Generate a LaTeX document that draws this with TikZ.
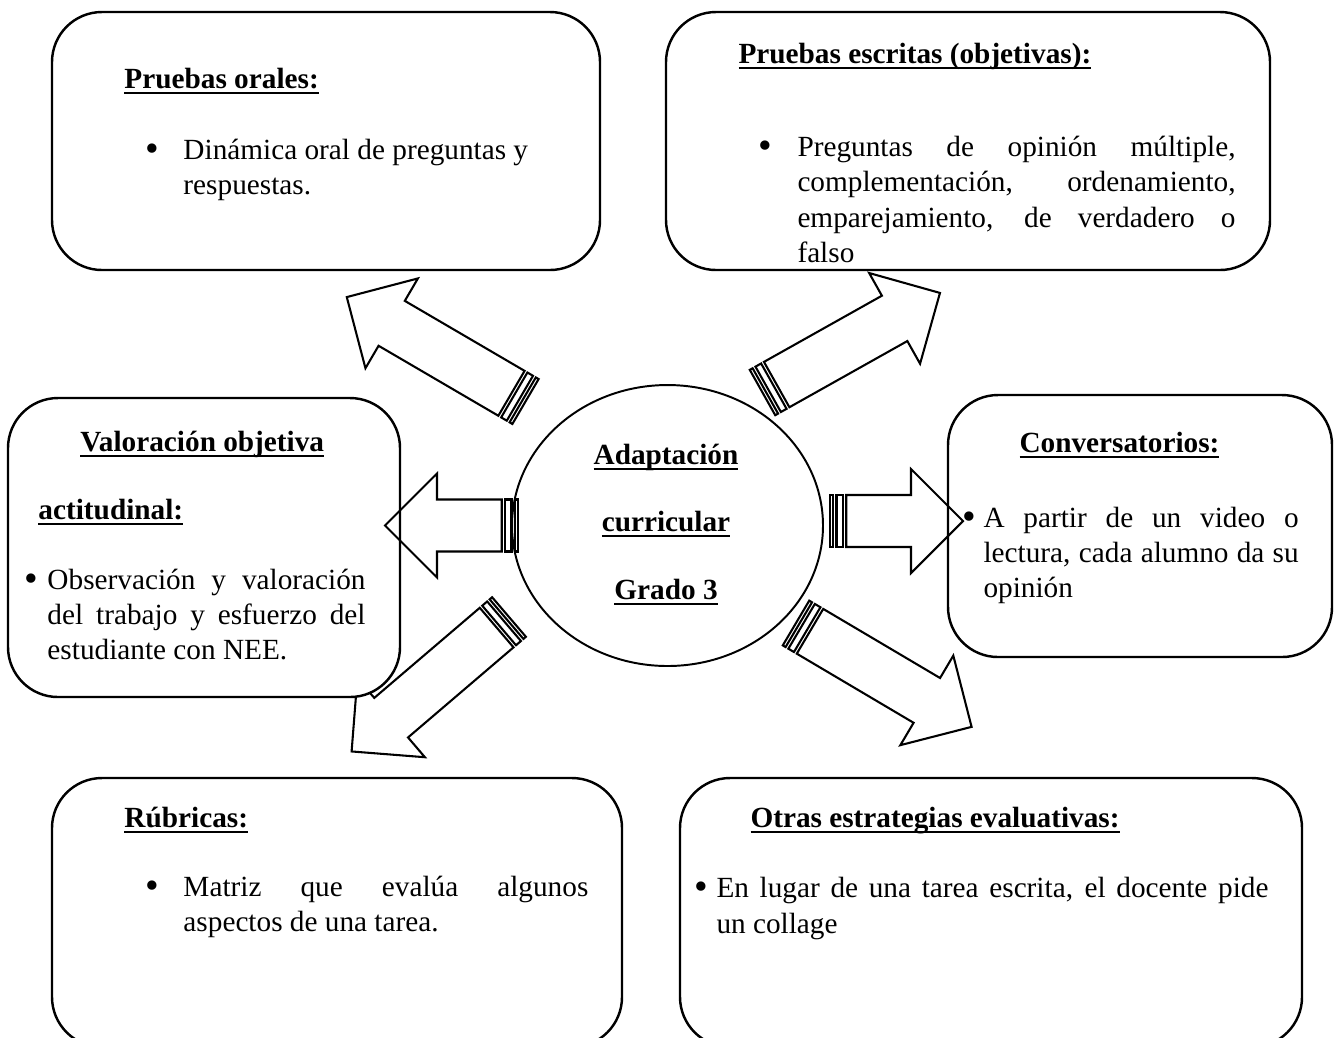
\documentclass[tikz,border=0pt]{standalone}
\usepackage{fontspec}
\setmainfont{Liberation Serif}
\usetikzlibrary{shapes.geometric}
\newcommand\hdr[1]{\setbox0\hbox{\bfseries #1}\rlap{\rule[-2.5pt]{\wd0}{1pt}}\box0}
\newcommand\jline[2]{\makebox[#1][s]{#2}}
\newcommand\sarrow[5]{%
  \begin{scope}[shift={(#1,#2)},rotate=#3]
    \draw[arr,#5] (16.25,-26) -- ({#4-52},-26) -- ({#4-52},-52) -- (#4,0)
      -- ({#4-52},52) -- ({#4-52},26) -- (16.25,26) -- cycle;
    \draw[arr,#5] (0,-26) rectangle (3.25,26);
    \draw[arr,#5] (6.5,-26) rectangle (13,26);
  \end{scope}}
\tikzset{
  box/.style={draw, line width=1pt, rounded corners=20.5pt, fill=white},
  arr/.style={draw, line width=0.85pt, line join=miter},
  txt/.style={anchor=base west, inner sep=0pt, font=\fontsize{12}{14}\selectfont},
  ctr/.style={anchor=base, inner sep=0pt, font=\fontsize{12}{14}\selectfont},
  bul/.style={anchor=base, inner sep=0pt, font=\fontsize{16}{16}\selectfont},
}
\begin{document}
\begin{tikzpicture}[x=0.41pt,y=-0.41pt]
\useasboundingbox (0,0) rectangle (1339,1037);
\fill[white] (0,0) rectangle (1339,1037);
\clip (0,0) rectangle (1339,1037);

% arrow hidden behind the left box
\sarrow{509}{617}{220.5}{207}{fill=white}

% boxes
\draw[box] (52,12) rectangle (600,270);
\draw[box] (666,12) rectangle (1270,270);
\draw[box] (8,398) rectangle (400,697);
\draw[box] (948,395) rectangle (1332,657);
\draw[box] (52,778) rectangle (622,1047);
\draw[box] (680,778) rectangle (1302,1047);

% other arrows
\sarrow{525.5}{401.5}{149.7}{207}{}
\sarrow{762.5}{392.5}{29.3}{203.5}{}
\sarrow{518}{525.5}{180}{133}{}
\sarrow{830}{521}{0}{133}{}
\sarrow{796}{623}{-30.6}{204}{}

% centre
\node[draw, ellipse, line width=0.8pt, minimum width=127.5pt, minimum height=115.2pt, inner sep=0pt] (c) at (667.5,525.5) {};
\node[ctr] (c1) at (666,464) {\hdr{Adaptación}};
\node[ctr] (c2) at (666,531) {\hdr{curricular}};
\node[ctr] (c3) at (666,599) {\hdr{Grado 3}};

% box 1
\node[txt] (h1) at (124,88) {\hdr{Pruebas orales:}};
\node[bul] (b1) at (152,161) {\textbullet};
\node[txt] (t1a) at (183,159) {Dinámica oral de preguntas y};
\node[txt] (t1b) at (183,194) {respuestas.};

% box 2
\node[txt] (h2) at (738,63) {\hdr{Pruebas escritas (objetivas):}};
\node[bul] (b2) at (765,158) {\textbullet};
\node[txt] (t2a) at (797,156) {\jline{179.6pt}{Preguntas de opinión múltiple,}};
\node[txt] (t2b) at (797,191) {\jline{179.6pt}{complementación, ordenamiento,}};
\node[txt] (t2c) at (797,227) {\jline{179.6pt}{emparejamiento, de verdadero o}};
\node[txt] (t2d) at (797,262) {falso};

% box 3
\node[txt] (h3a) at (80,451) {\hdr{Valoración objetiva}};
\node[txt] (h3b) at (38,519) {\hdr{actitudinal:}};
\node[bul] (b3) at (31,591) {\textbullet};
\node[txt] (t3a) at (47,589) {\jline{130.4pt}{Observación y valoración}};
\node[txt] (t3b) at (47,624) {\jline{130.4pt}{del trabajo y esfuerzo del}};
\node[txt] (t3c) at (47,659) {estudiante con NEE.};

% box 4
\node[txt] (h4) at (1019,452) {\hdr{Conversatorios:}};
\node[bul] (b4) at (969,529) {\textbullet};
\node[txt] (t4a) at (983,527) {\jline{129.2pt}{A partir de un video o}};
\node[txt] (t4b) at (983,562) {\jline{129.2pt}{lectura, cada alumno da su}};
\node[txt] (t4c) at (983,597) {opinión};

% box 5
\node[txt] (h5) at (124,827) {\hdr{Rúbricas:}};
\node[bul] (b5) at (152,898) {\textbullet};
\node[txt] (t5a) at (183,896) {\jline{166pt}{Matriz que evalúa algunos}};
\node[txt] (t5b) at (183,931) {aspectos de una tarea.};

% box 6
\node[txt] (h6) at (750,827) {\hdr{Otras estrategias evaluativas:}};
\node[bul] (b6) at (701,899) {\textbullet};
\node[txt] (t6a) at (716,897) {\jline{226.3pt}{En lugar de una tarea escrita, el docente pide}};
\node[txt] (t6b) at (716,933) {un collage};
\end{tikzpicture}
\end{document}
